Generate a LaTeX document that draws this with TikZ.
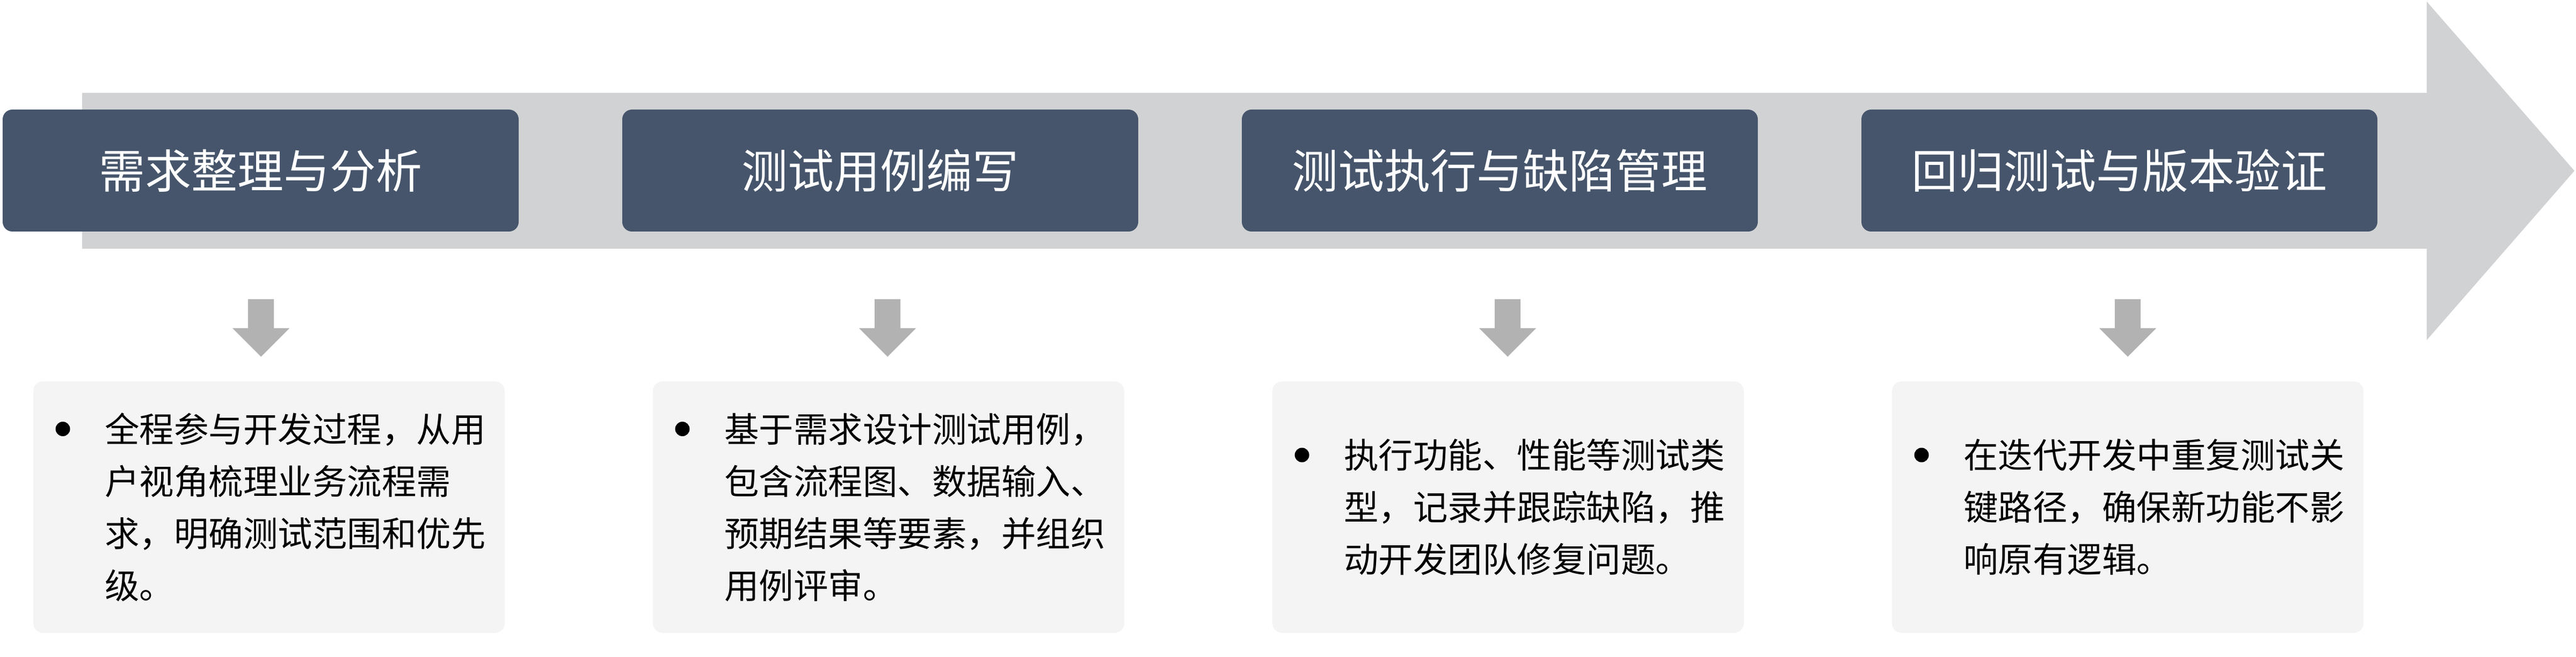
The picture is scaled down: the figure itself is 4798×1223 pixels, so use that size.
\documentclass[tikz,border=0pt]{standalone}
\usepackage{fontspec}
\newfontfamily\cjk{Noto Sans CJK SC}
\definecolor{headblue}{HTML}{46556B}
\definecolor{bargray}{HTML}{D1D2D4}
\definecolor{arrowgray}{HTML}{B2B2B2}
\definecolor{boxgray}{HTML}{F4F4F4}
\newcommand{\Stage}[5]{
	\node[headbox] (#1) at (485.5,317.5) {#2};
	\node[bodybox] (#1box) at (501,944) {};
	\node[bodytext] (#1text) at (194,{968.5-48.5*(#3-1)}) {#5};
	\fill (117,{944-48.5*(#3-1)}) circle[radius=2.7pt];
	\coordinate (#1arr) at (#4,557);
	\fill[arrowgray] (#1arr) ++(-24,0) -- ++(48,0) -- ++(0,54) -- ++(29,0) -- ++(-53,53) -- ++(-53,-53) -- ++(29,0) -- cycle;
}

\begin{document}
\begin{tikzpicture}[x=0.2pt,y=-0.2pt,
	headbox/.style={fill=headblue, rounded corners=3.6pt, minimum width=192.2pt, minimum height=45.4pt, inner sep=0pt, text=white, font=\cjk\fontsize{17.2}{20}\selectfont},
	bodybox/.style={fill=boxgray, rounded corners=3.6pt, minimum width=175.6pt, minimum height=93.6pt, inner sep=0pt},
	bodytext/.style={anchor=base west, inner sep=0pt, text width=150pt, align=left, font=\cjk\fontsize{12.9}{19.4}\selectfont}]
	\fill[white] (0,0) rectangle (4798,1223);
	\fill[bargray] (153,173) -- (4520,173) -- (4520,3) -- (4795,318) -- (4520,633) -- (4520,463) -- (153,463) -- cycle;
	\Stage{need}{需求整理与分析}{4}{486}{全程参与开发过程，从用\\户视角梳理业务流程需\\求，明确测试范围和优先\\级。}
	\begin{scope}[shift={(1154,0)}]
		\Stage{case}{测试用例编写}{4}{499}{基于需求设计测试用例，\\包含流程图、数据输入、\\预期结果等要素，并组织\\用例评审。}
	\end{scope}
	\begin{scope}[shift={(2308,0)}]
		\Stage{exec}{测试执行与缺陷管理}{3}{500}{执行功能、性能等测试类\\型，记录并跟踪缺陷，推\\动开发团队修复问题。}
	\end{scope}
	\begin{scope}[shift={(3462,0)}]
		\Stage{regr}{回归测试与版本验证}{3}{501}{在迭代开发中重复测试关\\键路径，确保新功能不影\\响原有逻辑。}
	\end{scope}
\end{tikzpicture}
\end{document}
